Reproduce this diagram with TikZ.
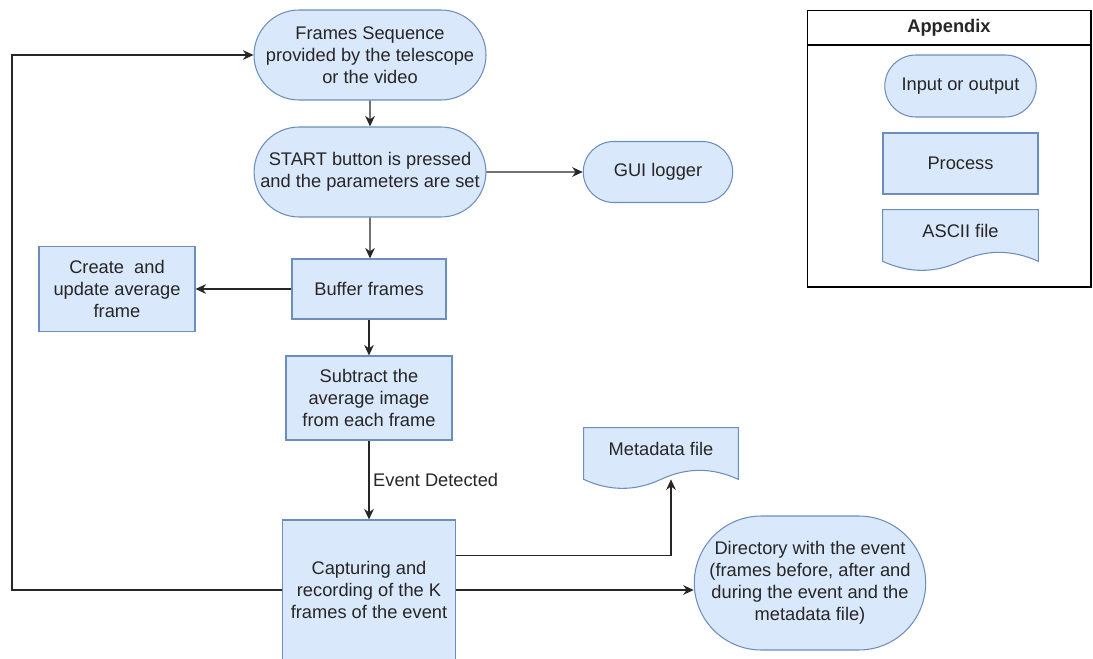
\documentclass[tikz,border=0pt]{standalone}
\usepackage{fontspec}
\setmainfont{Liberation Sans}
\usetikzlibrary{shapes.misc, arrows.meta, calc}

\definecolor{boxfill}{HTML}{DAE8FC}
\definecolor{boxline}{HTML}{6C8EBF}
\definecolor{linegray}{HTML}{262626}

\tikzset{
  io/.style={draw=boxline, fill=boxfill, rounded rectangle, line width=0.6pt, align=center, inner sep=1pt},
  proc/.style={draw=boxline, fill=boxfill, rectangle, line width=0.6pt, align=center, inner sep=1pt},
  doc/.style={rectangle, align=center, inner sep=1pt, minimum width=3.08cm, minimum height=0.82cm},
  arr/.style={-{Stealth[length=6pt,width=5.5pt]}, line width=0.8pt, draw=linegray},
}

\newcommand{\docwave}[1]{%
  \filldraw[draw=boxline, fill=boxfill, line width=0.6pt]
    (#1.north west) -- (#1.north east) -- ($(#1.south east)+(0,10)$)
    .. controls ($(#1.south)+(51.3,-2)$) and ($(#1.south)+(25.7,-2)$) .. ($(#1.south)+(0,10)$)
    .. controls ($(#1.south)+(-25.7,22)$) and ($(#1.south)+(-51.3,22)$) .. ($(#1.south west)+(0,10)$)
    -- cycle;}

\begin{document}
\begin{tikzpicture}[x=0.02cm, y=-0.02cm, font=\fontsize{10.4}{12.5}\selectfont, text=black!85]
\useasboundingbox (0,0) rectangle (1093,659);

\node[io, minimum width=4.6cm, minimum height=1.8cm] (frames) at (370,55) {Frames Sequence\\provided by the telescope\\or the video};
\node[io, minimum width=4.6cm, minimum height=1.8cm] (start) at (370,172) {START button is pressed\\and the parameters are set};
\node[io, minimum width=3.06cm, minimum height=1.22cm] (gui) at (658,172) {GUI logger};
\node[proc, minimum width=3.08cm, minimum height=1.2cm] (buffer) at (369,289) {Buffer frames};
\node[proc, minimum width=3.12cm, minimum height=1.7cm] (avg) at (117,289) {Create~ and\\update average\\frame};
\node[proc, minimum width=3.32cm, minimum height=1.68cm] (sub) at (369,398) {Subtract the\\average image\\from each frame};
\node[proc, minimum width=3.46cm, minimum height=2.8cm] (cap) at (369,590) {Capturing and\\recording of the K\\frames of the event};
\node[doc] (meta) at (661,448.5) {};
\docwave{meta}
\node at (meta) {Metadata file};
\node[io, minimum width=4.7cm, minimum height=2.68cm] (dir) at (810,583) {Directory with the event\\(frames before, after and\\during the event and the\\metadata file)};

\draw[arr] (frames) -- (start);
\draw[arr] (start) -- (start |- buffer.north);
\draw[arr] (start) -- (gui);
\draw[arr] (buffer) -- (avg);
\draw[arr] (buffer) -- (sub);
\draw[arr] (sub) -- node[right, inner sep=2pt] {Event Detected} (cap);
\coordinate (capout) at ($(cap.north east)+(0,36)$);
\draw[arr] (capout) -| ($(meta.south)+(10,10)$);
\draw[arr] (cap.east) -- (cap.east -| dir.west);
\coordinate (loopx) at (12,0);
\draw[arr] (cap.west) -- (cap.west -| loopx) |- (frames.west);

\node[draw=black, line width=0.6pt, minimum width=5.68cm, minimum height=5.54cm] (legend) at (949,148.5) {};
\draw[line width=0.6pt] (legend.north west |- 0,45) -- (legend.north east |- 0,45);
\node[font=\fontsize{10.4}{12.5}\selectfont\bfseries] (legtitle) at (949,28) {Appendix};
\node[io, minimum width=3.1cm, minimum height=1.24cm] (legio) at (960.5,86) {Input or output};
\node[proc, minimum width=3.1cm, minimum height=1.22cm] (legproc) at (960.5,163.5) {Process};
\node[doc, minimum width=3.1cm] (legdoc) at (960.5,230.5) {};
\docwave{legdoc}
\node at (legdoc) {ASCII file};
\end{tikzpicture}
\end{document}
